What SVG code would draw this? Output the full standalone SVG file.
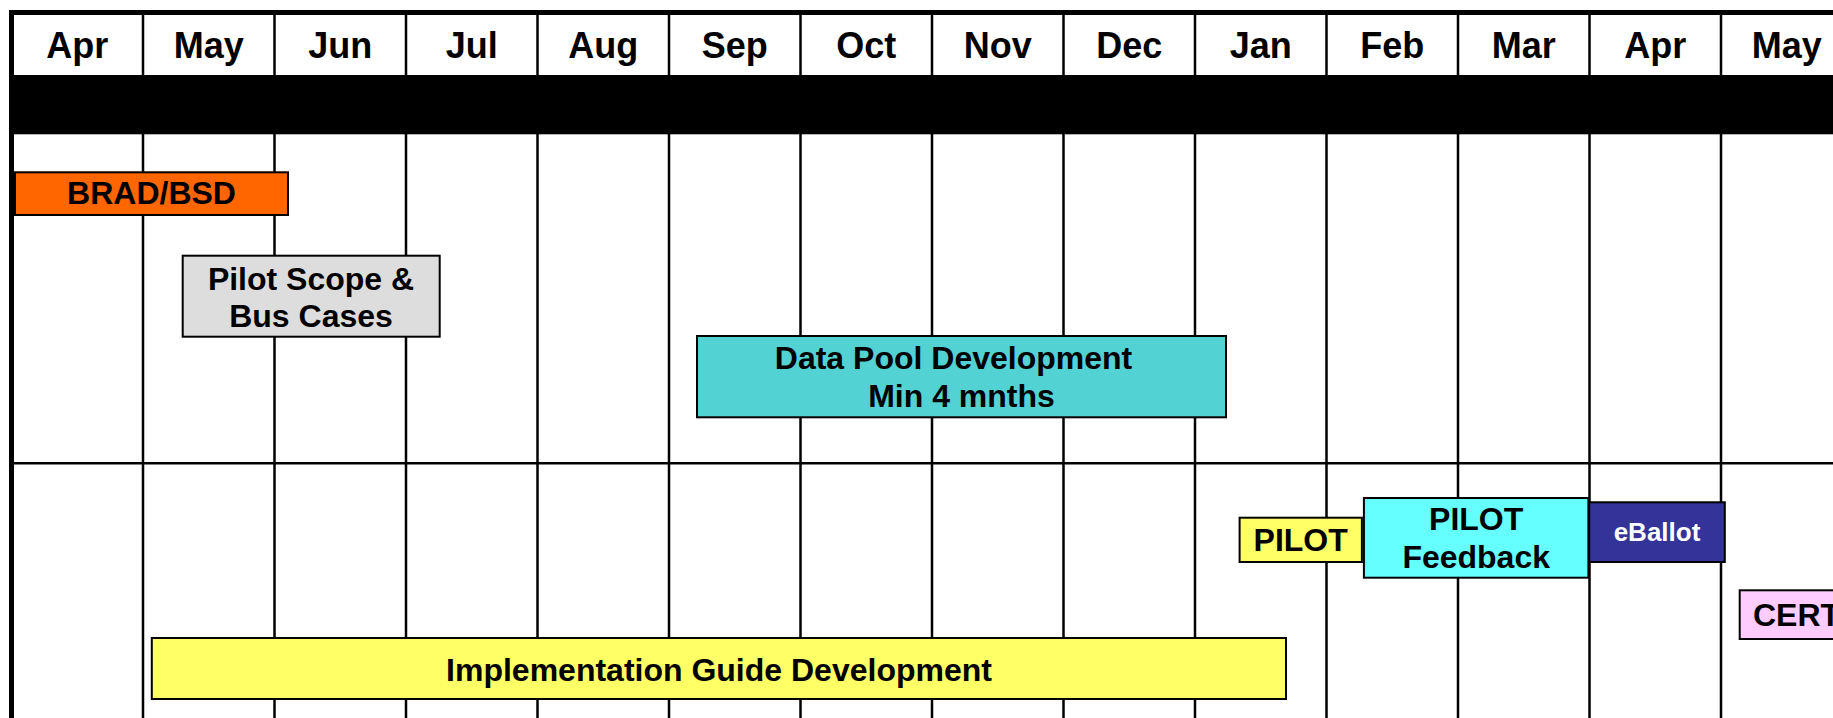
<svg xmlns="http://www.w3.org/2000/svg" width="1833" height="718" viewBox="0 0 1833 718">
<style>
  .grid { stroke: #000; stroke-width: 2.5; fill: none; }
  .box { stroke: #000; stroke-width: 2; }
  .hdr { font-family: "Liberation Sans", Arial, sans-serif; font-weight: bold; font-size: 36px; fill: #000; text-anchor: middle; }
  .lbl { font-family: "Liberation Sans", Arial, sans-serif; font-weight: bold; font-size: 32px; fill: #000; text-anchor: middle; }
</style>
<rect x="0" y="0" width="1833" height="718" fill="#fff"/>
<g id="grid">
  <g class="grid">
    <line x1="143" y1="12" x2="143" y2="718"/>
    <line x1="274.5" y1="12" x2="274.5" y2="718"/>
    <line x1="406" y1="12" x2="406" y2="718"/>
    <line x1="537.5" y1="12" x2="537.5" y2="718"/>
    <line x1="669" y1="12" x2="669" y2="718"/>
    <line x1="800.5" y1="12" x2="800.5" y2="718"/>
    <line x1="932" y1="12" x2="932" y2="718"/>
    <line x1="1063.5" y1="12" x2="1063.5" y2="718"/>
    <line x1="1195" y1="12" x2="1195" y2="718"/>
    <line x1="1326.5" y1="12" x2="1326.5" y2="718"/>
    <line x1="1458" y1="12" x2="1458" y2="718"/>
    <line x1="1589.5" y1="12" x2="1589.5" y2="718"/>
    <line x1="1721" y1="12" x2="1721" y2="718"/>
    <line x1="11" y1="463.3" x2="1833" y2="463.3"/>
  </g>
  <rect x="9" y="10" width="1824" height="5" fill="#000"/>
  <rect x="9" y="10" width="5" height="708" fill="#000"/>
  <rect x="11" y="75" width="1822" height="59.3" fill="#000"/>
</g>
<g id="header">
  <text class="hdr" x="77.2" y="57.5">Apr</text>
  <text class="hdr" x="208.8" y="57.5">May</text>
  <text class="hdr" x="340.2" y="57.5">Jun</text>
  <text class="hdr" x="471.8" y="57.5">Jul</text>
  <text class="hdr" x="603.2" y="57.5">Aug</text>
  <text class="hdr" x="734.8" y="57.5">Sep</text>
  <text class="hdr" x="866.2" y="57.5">Oct</text>
  <text class="hdr" x="997.8" y="57.5">Nov</text>
  <text class="hdr" x="1129.2" y="57.5">Dec</text>
  <text class="hdr" x="1260.8" y="57.5">Jan</text>
  <text class="hdr" x="1392.2" y="57.5">Feb</text>
  <text class="hdr" x="1523.8" y="57.5">Mar</text>
  <text class="hdr" x="1655.2" y="57.5">Apr</text>
  <text class="hdr" x="1786.8" y="57.5">May</text>
</g>
<g id="connectors"></g>
<g id="brad-bsd">
  <rect class="box" x="15" y="172.3" width="273" height="42.7" fill="#FF6600"/>
  <text class="lbl" x="151.5" y="204">BRAD/BSD</text>
</g>
<g id="pilot-scope">
  <rect class="box" x="182.7" y="255.7" width="257" height="81" fill="#DDDDDD"/>
  <text class="lbl" x="311" y="290">Pilot Scope &amp;</text>
  <text class="lbl" x="311" y="327.3">Bus Cases</text>
</g>
<g id="data-pool">
  <rect class="box" x="697" y="336" width="529" height="81.3" fill="#53D2D4"/>
  <text class="lbl" x="953.5" y="369.3">Data Pool Development</text>
  <text class="lbl" x="961.5" y="406.7">Min 4 mnths</text>
</g>
<g id="pilot">
  <rect class="box" x="1239.6" y="517.7" width="122.3" height="44.3" fill="#FFFF66"/>
  <text class="lbl" x="1300.7" y="551">PILOT</text>
</g>
<g id="pilot-feedback">
  <rect class="box" x="1363.9" y="498" width="224.5" height="79.7" fill="#66FFFF"/>
  <text class="lbl" x="1476.2" y="530">PILOT</text>
  <text class="lbl" x="1476.2" y="567.7">Feedback</text>
</g>
<g id="eballot">
  <rect class="box" x="1589.2" y="502.3" width="135.6" height="59.7" fill="#333399"/>
  <text class="lbl" x="1657" y="540.7" style="font-size:26px;fill:#fff">eBallot</text>
</g>
<g id="cert">
  <rect class="box" x="1739.7" y="590.3" width="140" height="48.7" fill="#FFCCFF"/>
  <text class="lbl" x="1753" y="625.7" style="text-anchor:start">CERT</text>
</g>
<g id="impl-guide">
  <rect class="box" x="151.8" y="638" width="1134.2" height="61" fill="#FFFF66"/>
  <text class="lbl" x="719" y="681">Implementation Guide Development</text>
</g>
</svg>
